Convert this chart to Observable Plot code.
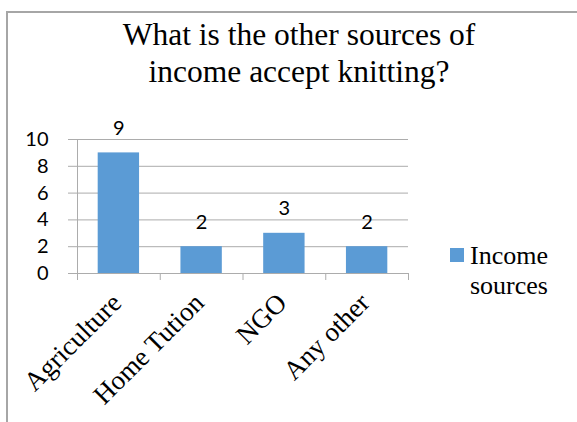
<!DOCTYPE html>
<html>
<head>
<meta charset="utf-8">
<script src="https://cdn.jsdelivr.net/npm/d3@7"></script>
<script src="https://cdn.jsdelivr.net/npm/@observablehq/plot@0.6"></script>
<style>
  html, body { margin: 0; padding: 0; background: #fff; }
  #wrap { position: relative; width: 577px; height: 422px; overflow: hidden; background: #fff; }
  #frame { position: absolute; left: 6px; top: 11px; width: 580px; height: 420px;
           border-left: 2px solid #a6a6a6; border-top: 2px solid #a6a6a6; box-sizing: border-box; }
  #title { position: absolute; left: 0px; width: 598px; top: 16px; text-align: center;
           font-family: "Liberation Serif", "Times New Roman", serif; font-size: 31.5px; line-height: 37px; color: #000; white-space: nowrap; }
  #legend { position: absolute; left: 450px; top: 241px; font-family: "Liberation Serif", "Times New Roman", serif;
            font-size: 26px; line-height: 30px; color: #000; }
  #legend .sw { position: absolute; left: 0; top: 7px; width: 14px; height: 14px; }
  #legend .txt { position: absolute; left: 20px; top: 0; white-space: nowrap; }
  #chart { position: absolute; left: 0; top: 0; }
</style>
</head>
<body>
<div id="wrap">
  <div id="chart"></div>
  <div id="frame"></div>
  <div id="title"></div>
  <div id="legend"></div>
</div>
<script>
const titleLines = ["What is the other sources of", "income accept knitting?"];
const categories = ["Agriculture", "Home Tution", "NGO", "Any other"];
const values = [9, 2, 3, 2];
const seriesName = ["Income", "sources"];
const yTicks = [0, 2, 4, 6, 8, 10];
const barColor = "#5B9BD5";
const gridColor = "#acacac";

const data = categories.map((c, i) => ({category: c, value: values[i], pos: i}));
const bounds = d3.range(categories.length + 1);

const chart = Plot.plot({
  width: 577,
  height: 422,
  marginLeft: 77,
  marginRight: 169,
  marginTop: 139,
  marginBottom: 149,
  style: {background: "transparent", overflow: "visible"},
  x: {type: "linear", domain: [0, categories.length]},
  y: {domain: [0, 10]},
  marks: [
    Plot.gridY(yTicks, {stroke: gridColor, strokeOpacity: 1, strokeWidth: 1}),
    Plot.axisY({ticks: yTicks, tickSize: 9, tickPadding: 20, stroke: gridColor,
                fontFamily: "Lato, sans-serif", fontSize: 20, fill: "#000", label: null}),
    Plot.rectY(data, {x1: d => d.pos + 0.25, x2: d => d.pos + 0.75, y: "value", fill: barColor}),
    Plot.ruleX([0], {stroke: gridColor}),
    Plot.ruleY([0], {stroke: gridColor}),
    Plot.axisX({ticks: bounds, tickSize: 7, stroke: gridColor, tickFormat: () => "", label: null}),
    Plot.text(data, {x: d => d.pos + 0.5, y: "value", text: d => String(d.value), dy: -18,
                     lineAnchor: "bottom", fontFamily: "Lato, sans-serif", fontSize: 20, fill: "#000"}),
    Plot.text(data, {x: d => d.pos + 0.5, y: 0, text: "category", rotate: -45, textAnchor: "end",
                     lineAnchor: "bottom", dx: 4, dy: 31, fontFamily: "Liberation Serif, Times New Roman, serif",
                     fontSize: 27, fill: "#000"})
  ]
});
document.getElementById("chart").appendChild(chart);

const t = document.getElementById("title");
titleLines.forEach(s => { const d = document.createElement("div"); d.textContent = s; t.appendChild(d); });

const lg = document.getElementById("legend");
const sw = document.createElement("div"); sw.className = "sw"; sw.style.background = barColor; lg.appendChild(sw);
const tx = document.createElement("div"); tx.className = "txt"; tx.innerHTML = seriesName.join("<br>"); lg.appendChild(tx);
</script>
</body>
</html>
